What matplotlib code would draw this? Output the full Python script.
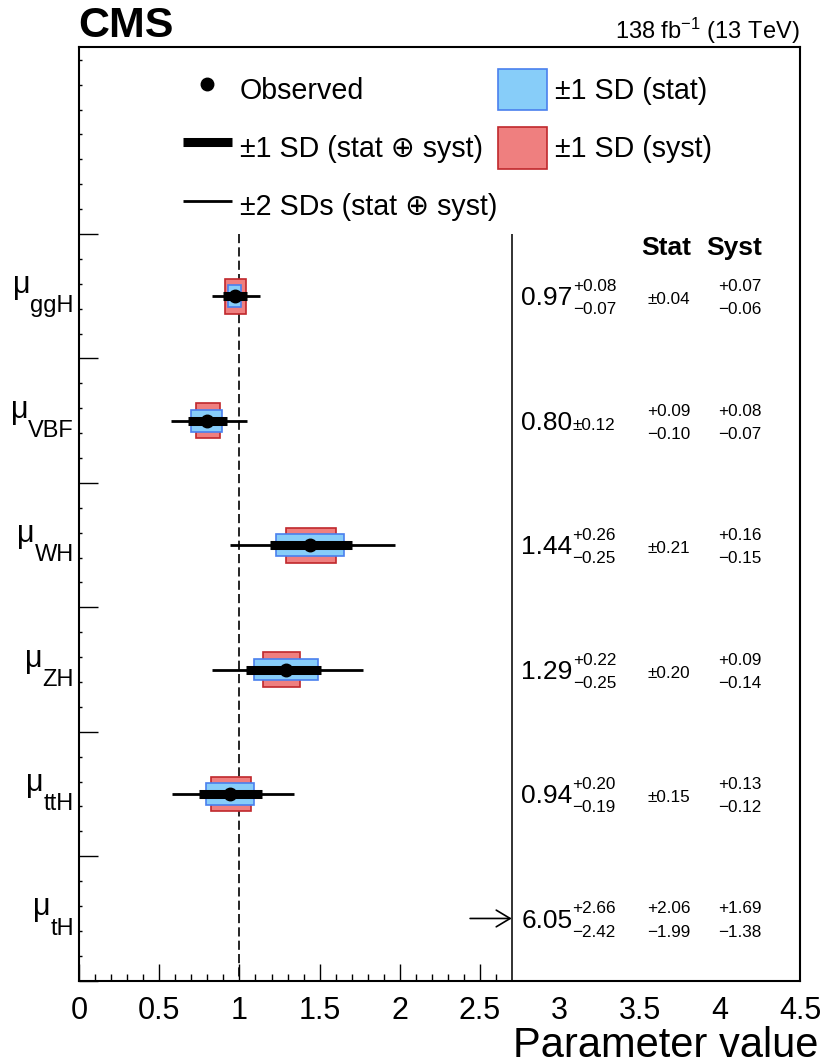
import matplotlib
matplotlib.use('Agg')
import matplotlib.pyplot as plt
import numpy as np
from matplotlib.lines import Line2D
from matplotlib.patches import Patch
from matplotlib.transforms import blended_transform_factory

plt.rcParams['font.family'] = ['Liberation Sans', 'DejaVu Sans']
plt.rcParams['mathtext.fontset'] = 'custom'
plt.rcParams['mathtext.rm'] = 'Liberation Sans'
plt.rcParams['mathtext.it'] = 'Liberation Sans:italic'

# signal strengths per production mode
PROCESSES = ['ggH', 'VBF', 'WH', 'ZH', 'ttH', 'tH']
OBSERVED = [0.97, 0.80, 1.44, 1.29, 0.94, 6.05]
TOT_HI = [0.08, 0.12, 0.26, 0.22, 0.20, 2.66]
TOT_LO = [0.07, 0.12, 0.25, 0.25, 0.19, 2.42]
STAT_HI = [0.04, 0.09, 0.21, 0.20, 0.15, 2.06]
STAT_LO = [0.04, 0.10, 0.21, 0.20, 0.15, 1.99]
SYST_HI = [0.07, 0.08, 0.16, 0.09, 0.13, 1.69]
SYST_LO = [0.06, 0.07, 0.15, 0.14, 0.12, 1.38]
# +-2 SD interval (tH is off scale)
TWO_SD_LO = [0.83, 0.57, 0.94, 0.83, 0.58, np.nan]
TWO_SD_HI = [1.13, 1.05, 1.97, 1.77, 1.34, np.nan]

LEGEND_LABELS = ['Observed', '±1 SD (stat ⊕ syst)', '±2 SDs (stat ⊕ syst)',
                 '±1 SD (stat)', '±1 SD (syst)']

X_CUT = 2.7
SM = 1.0
STAT_FACE, STAT_EDGE = '#87CDF9', '#4A80EE'
SYST_FACE, SYST_EDGE = '#EF7F7F', '#C0282C'
MINUS = '\u2212'


def fmt(v):
    return f'{v:.2f}'


def draw_err(ax, x, yc, hi, lo):
    kw = dict(fontsize=12.3, va='baseline', ha='right')
    if hi == lo:
        ax.text(x, yc + 0.065, '±' + fmt(hi), **kw)
        return
    ax.text(x, yc - 0.04, '+' + fmt(hi), **kw)
    ax.text(x, yc + 0.145, MINUS + fmt(lo), **kw)


fig = plt.figure(figsize=(8.28, 10.64), dpi=100)
ax = fig.add_axes([0.0958, 0.0783, 0.8704, 0.8772])

y = np.arange(len(PROCESSES))
obs = np.array(OBSERVED)
shown = obs < X_CUT

# boxes
ax.barh(y[shown], (np.array(SYST_HI) + np.array(SYST_LO))[shown],
        left=(obs - np.array(SYST_LO))[shown], height=0.28,
        color=SYST_FACE, edgecolor=SYST_EDGE, linewidth=1.2, zorder=2)
ax.barh(y[shown], (np.array(STAT_HI) + np.array(STAT_LO))[shown],
        left=(obs - np.array(STAT_LO))[shown], height=0.175,
        color=STAT_FACE, edgecolor=STAT_EDGE, linewidth=1.2, zorder=3)
ax.hlines(y[shown], np.array(TWO_SD_LO)[shown], np.array(TWO_SD_HI)[shown],
          color='k', lw=2, capstyle='butt', zorder=4)
ax.hlines(y[shown], (obs - np.array(TOT_LO))[shown],
          (obs + np.array(TOT_HI))[shown],
          color='k', lw=6.5, capstyle='butt', zorder=5)
ax.plot(obs[shown], y[shown], 'o', color='k', ms=9, ls='none', zorder=6)

# off-scale points get an arrow
for yi in y[~shown]:
    ax.annotate('', xy=(X_CUT, yi), xytext=(X_CUT - 0.26, yi),
                arrowprops=dict(arrowstyle='->,head_length=0.5,head_width=0.3',
                                lw=1.2, color='k', mutation_scale=20,
                                shrinkA=0, shrinkB=0))

y_bottom = y[-1] + 0.5
ax.vlines(SM, y[0] - 0.5, y_bottom, color='k', lw=1.2,
          linestyles=(0, (5.5, 2.5)), zorder=1)
ax.vlines(X_CUT, y[0] - 0.5, y_bottom, color='#222222', lw=1.3, zorder=1)

ax.set_xlim(0, 4.5)
ax.set_ylim(y_bottom, y[0] - 2.0)

# x ticks: labels everywhere, tick marks only left of the cut
xt = np.arange(0, 4.51, 0.5)
ax.set_xticks(xt)
ax.set_xticklabels([f'{t:g}' for t in xt])
ax.set_xticks(np.round(np.arange(1, 27) * 0.1, 1), minor=True)
for t in ax.xaxis.get_major_ticks():
    if t.get_loc() > X_CUT:
        t.tick1line.set_visible(False)
ax.set_yticks(np.arange(-0.5, len(PROCESSES), 1.0))
ax.set_yticks(np.arange(-1.9, y_bottom, 0.2), minor=True)

ax.tick_params(axis='x', which='major', direction='in', length=12, width=1,
               labelsize=22, pad=11, top=False)
ax.tick_params(axis='x', which='minor', direction='in', length=4.8, width=1,
               top=False)
ax.tick_params(axis='y', which='major', direction='in', length=13.5, width=1,
               labelleft=False, right=False)
ax.tick_params(axis='y', which='minor', direction='in', length=2, width=1,
               right=False)
for s in ax.spines.values():
    s.set_linewidth(1.5)

# y labels: mu with a dropped subscript
lab_tr = blended_transform_factory(ax.transAxes, ax.transData)
for yi, proc in zip(y, PROCESSES):
    sub = ax.text(-0.0074, yi + 0.129, proc, transform=lab_tr, fontsize=17,
                  ha='right', va='baseline')
    ax.annotate('μ', xy=(0, yi - 0.024), xycoords=(sub, 'data'),
                fontsize=22, ha='right', va='baseline')

# numbers on the right
ax.text(3.822, -0.33, 'Stat', fontsize=19, fontweight='bold', ha='right',
        va='baseline')
ax.text(4.261, -0.33, 'Syst', fontsize=19, fontweight='bold', ha='right',
        va='baseline')
for i, yi in enumerate(y):
    vt = ax.text(2.76, yi + 0.073, fmt(OBSERVED[i]), fontsize=19,
                 ha='left', va='baseline')
    if TOT_HI[i] == TOT_LO[i]:
        ax.annotate('±' + fmt(TOT_HI[i]), xy=(1, yi + 0.073),
                    xycoords=(vt, 'data'), fontsize=12.3, va='baseline')
    else:
        ax.annotate('+' + fmt(TOT_HI[i]), xy=(1, yi - 0.04),
                    xycoords=(vt, 'data'), fontsize=12.3, va='baseline')
        ax.annotate(MINUS + fmt(TOT_LO[i]), xy=(1, yi + 0.145),
                    xycoords=(vt, 'data'), fontsize=12.3, va='baseline')
    draw_err(ax, 3.816, yi, STAT_HI[i], STAT_LO[i])
    draw_err(ax, 4.261, yi, SYST_HI[i], SYST_LO[i])

handles = [Line2D([], [], ls='none', marker='o', color='k', ms=9),
           Line2D([], [], color='k', lw=6.5, solid_capstyle='butt'),
           Line2D([], [], color='k', lw=2, solid_capstyle='butt'),
           Patch(facecolor=STAT_FACE, edgecolor=STAT_EDGE, lw=1.2),
           Patch(facecolor=SYST_FACE, edgecolor=SYST_EDGE, lw=1.2)]
ax.legend(handles, LEGEND_LABELS, ncol=2, loc='upper left',
          bbox_to_anchor=(183 / 828, 1 - 69 / 1064),
          bbox_transform=fig.transFigure, frameon=False, fontsize=20.6,
          handlelength=1.7, handleheight=1.85, handletextpad=0.28,
          columnspacing=0.05, labelspacing=0.59, borderpad=0,
          borderaxespad=0)

fig.text(0.0946, 1 - 36.7 / 1064, 'CMS', fontsize=31, fontweight='bold',
         va='baseline')
fig.text(0.9662, 1 - 39.3 / 1064, r'138 fb$^{\mathrm{-1}}$ (13 TeV)',
         fontsize=17, ha='right', va='baseline')
fig.text(818 / 828, 1 - 1056.7 / 1064, 'Parameter value', fontsize=30,
         ha='right', va='baseline')

fig.savefig('out.png', dpi=100)
